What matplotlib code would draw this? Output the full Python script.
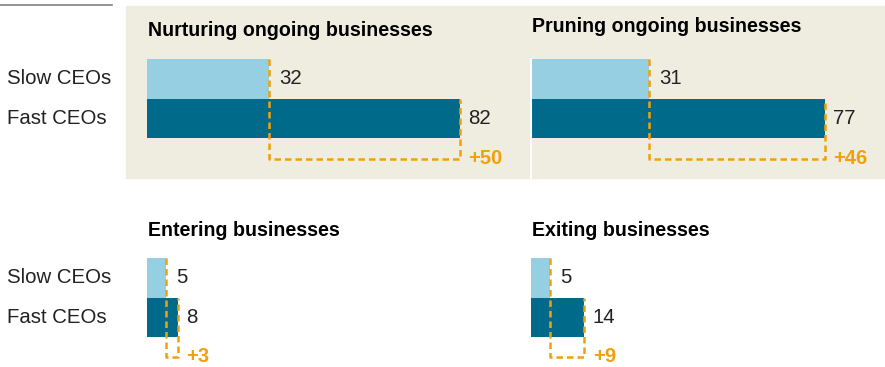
import matplotlib.pyplot as plt
import matplotlib.transforms as mtransforms
from matplotlib.patches import Rectangle
from matplotlib.lines import Line2D

plt.rcParams['font.family'] = ['Liberation Sans', 'DejaVu Sans']

# ----- Data -----
groups = ['Slow CEOs', 'Fast CEOs']
panelTitles = ['Nurturing ongoing businesses', 'Pruning ongoing businesses',
               'Entering businesses', 'Exiting businesses']
slowValues = [32, 31, 5, 5]
fastValues = [82, 77, 8, 14]

LIGHT = '#96cfe1'
DARK = '#006a8b'
ORANGE = '#f0a10a'
BEIGE = '#efece0'
TEXT = '#222222'

W, H = 885, 367
fig = plt.figure(figsize=(W / 100, H / 100), dpi=100)

# beige band behind the top row + short rule top left
fig.patches.append(Rectangle((126 / W, 1 - 178 / H), (W - 126) / W, (178 - 6) / H,
                             transform=fig.transFigure, color=BEIGE, zorder=-5))
fig.lines.append(Line2D([0, 112 / W], [1 - 5 / H, 1 - 5 / H], transform=fig.transFigure,
                        color='#808080', lw=1.2, zorder=-5))

pxPerUnit = 3.82
unitH = 39.5
XMAX = 90

# left px, top px (top of slow bar), ylim bottom, title y px
layout = [(147, 59, -1.5, 30), (531, 59, -1.5, 26),
          (147, 258, -1.25, 231), (531, 258, -1.25, 231)]

for i, (left, top, ybot, ty) in enumerate(layout):
    hPx = (1.5 - ybot) * unitH
    ax = fig.add_axes([left / W, 1 - (top + hPx) / H, XMAX * pxPerUnit / W, hPx / H])
    ax.set_xlim(0, XMAX)
    ax.set_ylim(ybot, 1.5)
    ax.patch.set_alpha(0)
    for s in ax.spines.values():
        s.set_visible(False)
    ax.set_xticks([])
    ax.set_yticks([])

    slow = slowValues[i]
    fast = fastValues[i]
    ax.barh([1, 0], [slow, fast], height=1, color=[LIGHT, DARK], zorder=2)

    # white divider between the two top panels
    if i == 1:
        ax.spines['left'].set_visible(True)
        ax.spines['left'].set_color('white')
        ax.spines['left'].set_linewidth(1.5)

    # dashed bracket showing the gap
    yb = -1.03 if i < 2 else -1.0
    dash = dict(color=ORANGE, lw=1.8, dashes=(2.6, 1.6), zorder=3, clip_on=False)
    ax.plot([slow, slow, fast, fast], [1.5, yb, yb, 0.5], **dash)

    ax.annotate(str(slow), (slow, 1), xytext=(7, 0), textcoords='offset points',
                va='center', ha='left', fontsize=14.7, color=TEXT)
    ax.annotate(str(fast), (fast, 0), xytext=(6, 0), textcoords='offset points',
                va='center', ha='left', fontsize=14.7, color=TEXT)
    ax.annotate('+' + str(fast - slow), (fast, yb), xytext=(6, 0), textcoords='offset points',
                va='center', ha='left', fontsize=14.5, color=ORANGE, weight='bold')

    fig.text(left / W + 1 / W, 1 - ty / H, panelTitles[i], ha='left', va='center',
             fontsize=14.1, weight='bold', color='black')

    # row labels on the left, only for the left column
    if i % 2 == 0:
        tr = mtransforms.blended_transform_factory(fig.transFigure, ax.transData)
        for yy, name in zip([1, 0], groups):
            ax.text(7 / W, yy, name, transform=tr, ha='left', va='center',
                    fontsize=14.7, color=TEXT)

plt.savefig('out.png', dpi=100)
